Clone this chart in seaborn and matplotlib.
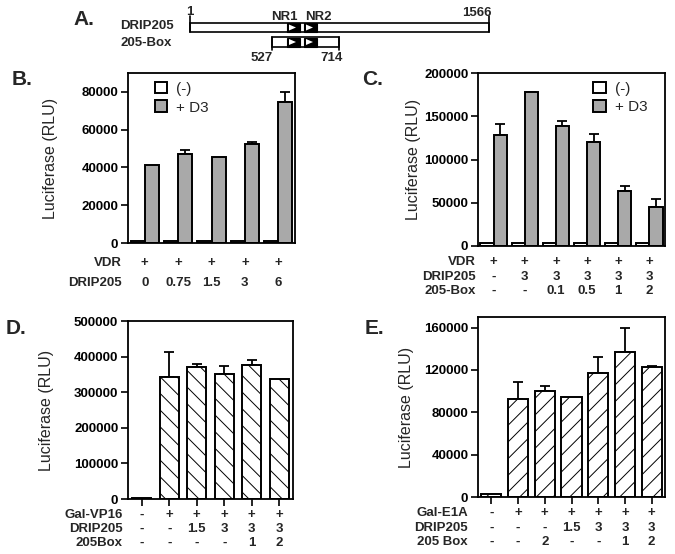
import numpy as np
import pandas as pd
import matplotlib
matplotlib.use("Agg")
import matplotlib.pyplot as plt
import matplotlib.transforms as mtransforms
from matplotlib.patches import Rectangle, Polygon
import seaborn as sns

# ---- panel B data ----
b_vdr = ["+", "+", "+", "+", "+"]
b_drip = ["0", "0.75", "1.5", "3", "6"]
b_minus = [1200, 1200, 1200, 1200, 1200]
b_d3 = [41300, 46900, 45500, 52200, 74900]
b_d3_err = [0, 2100, 0, 1100, 5100]

# ---- panel C data ----
c_vdr = ["+", "+", "+", "+", "+", "+"]
c_drip = ["-", "3", "3", "3", "3", "3"]
c_box = ["-", "-", "0.1", "0.5", "1", "2"]
c_minus = [3000, 4000, 4000, 4000, 3000, 3000]
c_d3 = [128500, 177700, 139200, 120000, 63500, 45000]
c_d3_err = [13000, 800, 5800, 9200, 6100, 8800]

# ---- panel D data ----
d_vp16 = ["-", "+", "+", "+", "+", "+"]
d_drip = ["-", "-", "1.5", "3", "3", "3"]
d_box = ["-", "-", "-", "-", "1", "2"]
d_vals = [2000, 344000, 371000, 351000, 376700, 338000]
d_err = [0, 69000, 8500, 22000, 15000, 0]

# ---- panel E data ----
e_e1a = ["-", "+", "+", "+", "+", "+", "+"]
e_drip = ["-", "-", "-", "1.5", "3", "3", "3"]
e_box = ["-", "-", "2", "-", "-", "1", "2"]
e_vals = [2500, 92500, 100300, 94700, 116800, 136600, 122400]
e_err = [0, 16400, 4500, 0, 15100, 23400, 1300]

GRAY = "#a9a9a9"
W, H = 675, 554

sns.set_style("ticks")
plt.rcParams["font.family"] = ["Liberation Sans", "DejaVu Sans"]
plt.rcParams["hatch.linewidth"] = 0.7
plt.rcParams["axes.linewidth"] = 1.3

fig = plt.figure(figsize=(6.75, 5.54), dpi=100)


def add_ax(l, t, r, b):
    return fig.add_axes([l / W, 1 - b / H, (r - l) / W, (b - t) / H])


def style_ax(ax, ylim, yticks, label_dx):
    ax.set_ylim(*ylim)
    ax.set_yticks(yticks)
    ax.set_yticklabels([str(v) for v in yticks], fontweight="bold", fontsize=9.5)
    ax.tick_params(axis="y", direction="out", length=5, width=1.2, pad=2, colors="black")
    for s in ax.spines.values():
        s.set_visible(True)
        s.set_color("black")
        s.set_linewidth(1.3)
    ax.set_xlabel("")
    ax.set_ylabel("Luciferase (RLU)", fontsize=11.5)
    w = ax.get_position().width * W
    ax.yaxis.set_label_coords(label_dx / w, 0.5)


def rows(ax, headers, values, offsets, head_dx):
    base = mtransforms.blended_transform_factory(ax.transData, ax.transAxes)
    head = mtransforms.blended_transform_factory(ax.transAxes, ax.transAxes)
    for hdr, vals, dy in zip(headers, values, offsets):
        tr = mtransforms.offset_copy(base, fig=fig, x=0, y=-dy, units="dots")
        for i, v in enumerate(vals):
            ax.text(i, 0, v, transform=tr, ha="center", va="center",
                    fontsize=9.5, fontweight="bold")
        trh = mtransforms.offset_copy(head, fig=fig, x=head_dx, y=-dy, units="dots")
        ax.text(0, 0, hdr, transform=trh, ha="right", va="center",
                fontsize=9.5, fontweight="bold")


def errs(ax, xs, tops, err):
    xs = np.asarray(xs)
    tops = np.asarray(tops, dtype=float)
    err = np.asarray(err, dtype=float)
    m = err > 0
    ax.errorbar(xs[m], tops[m], yerr=[np.zeros(m.sum()), err[m]], fmt="none",
                ecolor="black", elinewidth=1.3, capsize=3.5, capthick=1.3, zorder=1)


def paired(ax, minus, d3, d3_err):
    n = len(minus)
    df = pd.DataFrame({
        "grp": [str(i) for i in range(n)] * 2,
        "val": list(minus) + list(d3),
        "cond": ["(-)"] * n + ["+ D3"] * n,
    })
    sns.barplot(data=df, x="grp", y="val", hue="cond", hue_order=["(-)", "+ D3"],
                palette=["white", GRAY], edgecolor="black", linewidth=1.4,
                width=0.84, gap=0, errorbar=None, ax=ax, zorder=2)
    bars = [p for p in ax.patches if isinstance(p, Rectangle) and p.get_height() > 0]
    gray_bars = sorted([p for p in bars if p.get_facecolor()[0] < 0.9],
                       key=lambda p: p.get_x())[:n]
    xs = [p.get_x() + p.get_width() / 2 for p in gray_bars]
    errs(ax, xs, d3, d3_err)
    ax.set_xticks([])
    ax.set_xlim(-0.5, n - 0.5)


# ---------------- Panel B ----------------
axB = add_ax(128, 73, 295, 243)
paired(axB, b_minus, b_d3, b_d3_err)
style_ax(axB, (0, 90000), [0, 20000, 40000, 60000, 80000], -70)
axB.legend(loc="upper left", frameon=False, fontsize=11, handlelength=0.8,
           handleheight=0.8, handletextpad=0.6, labelspacing=0.3,
           bbox_to_anchor=(0.08, 1.03))
rows(axB, ["VDR", "DRIP205"], [b_vdr, b_drip], [20, 40], -6)

# ---------------- Panel C ----------------
axC = add_ax(478, 73, 665, 246)
paired(axC, c_minus, c_d3, c_d3_err)
style_ax(axC, (0, 200000), [0, 50000, 100000, 150000, 200000], -57)
axC.legend(loc="upper right", frameon=False, fontsize=11, handlelength=0.8,
           handleheight=0.8, handletextpad=0.6, labelspacing=0.3,
           bbox_to_anchor=(0.98, 1.03))
rows(axC, ["VDR", "DRIP205", "205-Box"], [c_vdr, c_drip, c_box], [16, 31, 45], -2)

# ---------------- Panel D ----------------
axD = add_ax(128, 321, 293, 499)
sns.barplot(x=[str(i) for i in range(len(d_vals))], y=d_vals, color="white",
            edgecolor="black", linewidth=1.4, width=0.7, errorbar=None,
            hatch="\\\\", ax=axD, zorder=2)
errs(axD, range(len(d_vals)), d_vals, d_err)
style_ax(axD, (0, 500000), [0, 100000, 200000, 300000, 400000, 500000], -74)
axD.set_xticks(range(len(d_vals)))
axD.set_xticklabels([])
axD.tick_params(axis="x", direction="out", length=5, width=1.2, colors="black")
axD.set_xlim(-0.5, len(d_vals) - 0.5)
rows(axD, ["Gal-VP16", "DRIP205", "205Box"], [d_vp16, d_drip, d_box], [16, 30, 44], -5)

# ---------------- Panel E ----------------
axE = add_ax(478, 317, 665, 497)
sns.barplot(x=[str(i) for i in range(len(e_vals))], y=e_vals, color="white",
            edgecolor="black", linewidth=1.4, width=0.75, errorbar=None,
            hatch="//", ax=axE, zorder=2)
errs(axE, range(len(e_vals)), e_vals, e_err)
style_ax(axE, (0, 170000), [0, 40000, 80000, 120000, 160000], -64)
axE.set_xticks(range(len(e_vals)))
axE.set_xticklabels([])
axE.tick_params(axis="x", direction="out", length=5, width=1.2, colors="black")
axE.set_xlim(-0.5, len(e_vals) - 0.5)
rows(axE, ["Gal-E1A", "DRIP205", "205 Box"], [e_e1a, e_drip, e_box], [16, 31, 45], -10)

# ---------------- Panel A (schematic, pixel layout) ----------------
axA = fig.add_axes([0, 1 - 70 / H, 1, 70 / H])
axA.set_xlim(0, W)
axA.set_ylim(70, 0)
axA.axis("off")


def nr_box(x0, y0, h):
    axA.add_patch(Rectangle((x0, y0), 13, h, facecolor="black", edgecolor="black", lw=0.8))
    cy = y0 + h / 2
    axA.add_patch(Polygon([(x0 + 2, cy - 3), (x0 + 2, cy + 3), (x0 + 9, cy)],
                          closed=True, facecolor="white", edgecolor="none"))


axA.add_patch(Rectangle((190, 23), 299, 9, facecolor="white", edgecolor="black", lw=1.2))
axA.plot([190, 190], [16, 32], color="black", lw=1.2)
axA.plot([489, 489], [16, 32], color="black", lw=1.2)
nr_box(287, 23, 9)
nr_box(304, 23, 9)
axA.add_patch(Rectangle((272, 37), 67, 10, facecolor="white", edgecolor="black", lw=1.2))
axA.plot([272, 272], [37, 50], color="black", lw=1.2)
axA.plot([339, 339], [37, 50], color="black", lw=1.2)
nr_box(287, 37.5, 9)
nr_box(304, 37.5, 9)

txt = dict(fontsize=9.5, fontweight="bold", va="center")
axA.text(190, 12, "1", ha="center", **txt)
axA.text(492, 13, "1566", ha="right", **txt)
axA.text(284, 17, "NR1", ha="center", **txt)
axA.text(318, 17, "NR2", ha="center", **txt)
axA.text(174, 26, "DRIP205", ha="right", **txt)
axA.text(172, 43, "205-Box", ha="right", **txt)
axA.text(273, 58, "527", ha="right", **txt)
axA.text(343, 58, "714", ha="right", **txt)

# ---------------- panel letters ----------------
for letter, x, y in [("A.", 73, 25), ("B.", 12, 85), ("C.", 362, 85),
                     ("D.", 6, 334), ("E.", 365, 334)]:
    fig.text(x / W, 1 - y / H, letter, fontsize=15, fontweight="bold",
             ha="left", va="baseline")

fig.savefig("out.png", dpi=100)
